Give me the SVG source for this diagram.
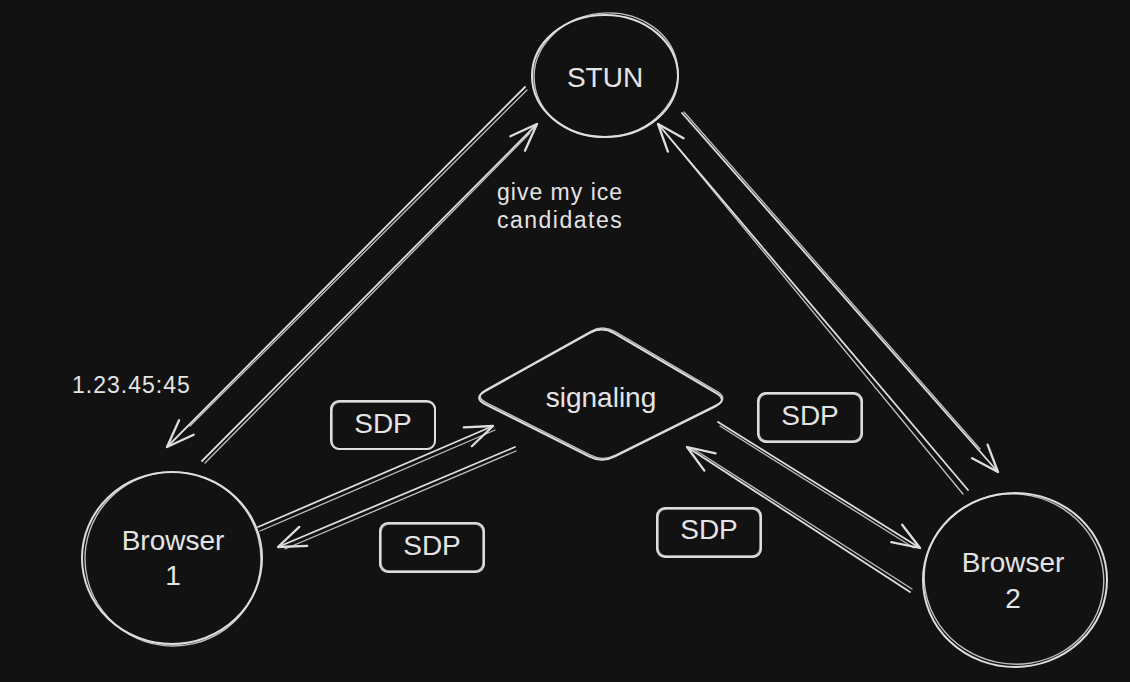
<svg xmlns="http://www.w3.org/2000/svg" width="1130" height="682" viewBox="0 0 1130 682">
<style>
.s{fill:none;stroke:#dedede;stroke-width:2;stroke-linecap:round;stroke-linejoin:round}
.s2{fill:none;stroke:#dedede;stroke-width:1.4;stroke-linecap:round;stroke-linejoin:round;opacity:.85}
.c{fill:none;stroke:#dedede;stroke-width:1.8;stroke-linecap:round}
.c2{fill:none;stroke:#dedede;stroke-width:1.3;stroke-linecap:round;opacity:.85}
.t{font-family:"Liberation Sans",Arial,sans-serif;fill:#e4e4e4;text-anchor:middle;font-size:28px}
.ts{font-family:"Liberation Sans",Arial,sans-serif;fill:#e4e4e4;font-size:23px}
</style>
<defs>
<marker id="ah" markerUnits="userSpaceOnUse" markerWidth="40" markerHeight="40" viewBox="-30 -15 35 30" refX="0" refY="0" orient="auto" overflow="visible">
<path d="M -24 -9 L 0 0 L -24 9" fill="none" stroke="#dedede" stroke-width="2" stroke-linecap="round" stroke-linejoin="round"/>
</marker>
</defs>
<rect x="0" y="0" width="1130" height="682" fill="#121212"/>

<g id="connectors">
<path class="c" d="M 525 87 L 167 447" marker-end="url(#ah)"/>
<path class="c2" d="M 527 90 L 190 426"/>
<path class="c" d="M 202 461 L 537 124" marker-end="url(#ah)"/>
<path class="c2" d="M 205 463 L 530 133"/>
<path class="c" d="M 682 113 L 998 472" marker-end="url(#ah)"/>
<path class="c2" d="M 684 112 L 980 449"/>
<path class="c" d="M 968 490 L 658 124" marker-end="url(#ah)"/>
<path class="c2" d="M 963 494 L 664 131"/>
<path class="c" d="M 258 527 L 493 426" marker-end="url(#ah)"/>
<path class="c2" d="M 260 531 L 495 430"/>
<path class="c" d="M 515 447 L 278 547" marker-end="url(#ah)"/>
<path class="c2" d="M 516 451 L 285 549"/>
<path class="c" d="M 718 422 L 920 548" marker-end="url(#ah)"/>
<path class="c2" d="M 720 426 L 914 548"/>
<path class="c" d="M 910 592 L 687 447" marker-end="url(#ah)"/>
<path class="c2" d="M 912 589 L 692 448"/>
</g>

<g id="node-stun">
<ellipse class="s" cx="605" cy="76" rx="73" ry="61"/>
<ellipse class="s2" cx="606" cy="75" rx="72" ry="62" transform="rotate(-6 606 75)"/>
<text class="t" x="605" y="87">STUN</text>
</g>

<g id="node-browser1">
<ellipse class="s" cx="172" cy="558" rx="90" ry="86"/>
<ellipse class="s2" cx="173" cy="559" rx="88" ry="87" transform="rotate(8 173 559)"/>
<text class="t" x="173" y="550">Browser</text>
<text class="t" x="173" y="585">1</text>
</g>

<g id="node-browser2">
<ellipse class="s" cx="1015" cy="580" rx="92" ry="87"/>
<ellipse class="s2" cx="1014" cy="579" rx="90" ry="85" transform="rotate(12 1014 579)"/>
<text class="t" x="1013" y="572">Browser</text>
<text class="t" x="1013" y="608">2</text>
</g>

<g id="node-signaling">
<path class="s" d="M 589.8 332.8 Q 602 326 614.1 333.1 L 715.9 392.9 Q 728 400 715.5 406.3 L 614.5 456.7 Q 602 463 589.5 456.7 L 485.5 404.3 Q 473 398 485.2 391.2 Z"/>
<path class="s2" transform="translate(1 -1.5)" d="M 589.8 332.8 Q 602 326 614.1 333.1 L 715.9 392.9 Q 728 400 715.5 406.3 L 614.5 456.7 Q 602 463 589.5 456.7 L 485.5 404.3 Q 473 398 485.2 391.2 Z"/>
<text class="t" x="601" y="407">signaling</text>
</g>

<g id="sdp-1">
<rect class="s" x="331" y="401" width="104" height="48" rx="8"/>
<rect class="s2" x="332" y="402" width="103" height="47" rx="8"/>
<text class="t" x="383" y="433">SDP</text>
</g>
<g id="sdp-2">
<rect class="s" x="380" y="523" width="104" height="49" rx="8"/>
<rect class="s2" x="381" y="524" width="102" height="47" rx="8"/>
<text class="t" x="432" y="555">SDP</text>
</g>
<g id="sdp-3">
<rect class="s" x="758" y="393" width="104" height="49" rx="8"/>
<rect class="s2" x="759" y="394" width="102" height="47" rx="8"/>
<text class="t" x="810" y="425">SDP</text>
</g>
<g id="sdp-4">
<rect class="s" x="657" y="508" width="104" height="49" rx="8"/>
<rect class="s2" x="658" y="509" width="102" height="47" rx="8"/>
<text class="t" x="709" y="539">SDP</text>
</g>

<g id="labels">
<text class="ts" x="72" y="393" letter-spacing="1">1.23.45:45</text>
<text class="ts" x="497" y="200" letter-spacing="1">give my ice</text>
<text class="ts" x="497" y="228" letter-spacing="1.5">candidates</text>
</g>
</svg>
